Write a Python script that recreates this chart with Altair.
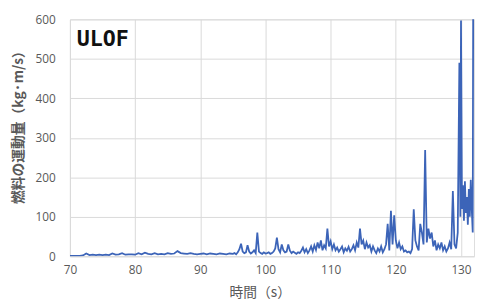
import altair as alt
import pandas as pd

# time (s) and fuel momentum (kg·m/s)
t_early = [70.0, 70.5, 71.0, 71.5, 72.0, 72.5, 73.0, 73.5, 74.0, 74.5, 75.0, 75.5,
           76.0, 76.5, 77.0, 77.5, 78.0, 78.5, 79.0, 79.5, 80.0, 80.5, 81.0, 81.5,
           82.0, 82.5, 83.0, 83.5, 84.0, 84.5, 85.0, 85.5, 86.0, 86.5, 87.0, 87.5,
           88.0, 88.5, 89.0, 89.5, 90.0, 90.5, 91.0, 91.5, 92.0, 92.5, 93.0, 93.5,
           94.0, 94.5, 95.0]
v_early = [1, 1, 1, 1, 2, 7, 3, 4, 3, 4, 3, 4,
           3, 7, 4, 5, 8, 4, 5, 5, 4, 8, 5, 9,
           6, 5, 8, 5, 6, 5, 8, 6, 7, 13, 8, 7,
           6, 8, 6, 5, 6, 7, 5, 7, 6, 5, 7, 6,
           5, 7, 6]

t_late = [95.25, 95.5, 95.75, 96.0, 96.25, 96.5, 96.75, 97.0, 97.25, 97.5, 97.75,
          98.0, 98.25, 98.5, 98.75, 99.0, 99.25, 99.5, 99.75, 100.0, 100.25, 100.5,
          100.75, 101.0, 101.25, 101.5, 101.75, 102.0, 102.25, 102.5, 102.75, 103.0,
          103.25, 103.5, 103.75, 104.0, 104.25, 104.5, 104.75, 105.0, 105.25, 105.5,
          105.75, 106.0, 106.25, 106.5, 106.75, 107.0, 107.25, 107.5, 107.75, 108.0,
          108.25, 108.5, 108.75, 109.0, 109.25, 109.5, 109.75, 110.0, 110.25, 110.5,
          110.75, 111.0, 111.25, 111.5, 111.75, 112.0, 112.25, 112.5, 112.75, 113.0,
          113.25, 113.5, 113.75, 114.0, 114.25, 114.5, 114.75, 115.0, 115.25, 115.5,
          115.75, 116.0, 116.25, 116.5, 116.75, 117.0, 117.25, 117.5, 117.75, 118.0,
          118.25, 118.5, 118.75, 119.0, 119.25, 119.5, 119.75, 120.0, 120.25, 120.5,
          120.75, 121.0, 121.25, 121.5, 121.75, 122.0, 122.25, 122.5, 122.75, 123.0,
          123.25, 123.5, 123.75, 124.0, 124.25, 124.5, 124.75, 125.0, 125.25, 125.5,
          125.75, 126.0, 126.25, 126.5, 126.75, 127.0, 127.25, 127.5, 127.75, 128.0,
          128.25, 128.5, 128.75, 129.0, 129.25, 129.5, 129.75, 129.9, 130.0, 130.15,
          130.3, 130.45, 130.6, 130.75, 130.9, 131.05, 131.2, 131.35, 131.5, 131.65,
          131.8, 131.9]
v_late = [8, 5, 10, 18, 32, 12, 8, 10, 28, 12, 7,
          10, 15, 8, 60, 12, 8, 6, 10, 7, 8, 10,
          6, 8, 12, 20, 47, 18, 10, 30, 15, 10,
          12, 30, 14, 8, 12, 9, 6, 10, 8, 14,
          22, 10, 18, 8, 15, 25, 12, 28, 16, 35,
          20, 40, 15, 28, 20, 70, 25, 38, 18, 30,
          15, 22, 12, 18, 25, 10, 20, 14, 24, 12,
          18, 28, 15, 35, 22, 70, 30, 40, 18, 35,
          22, 28, 12, 25, 15, 8, 20, 12, 25, 10,
          18, 30, 82, 15, 115, 30, 104, 40, 20, 35,
          18, 25, 12, 15, 10, 12, 8, 18, 119, 40,
          25, 15, 82, 60, 30, 269, 35, 70, 45, 60,
          25, 40, 15, 30, 20, 35, 15, 25, 12, 20,
          35, 18, 165, 30, 20, 60, 490, 100, 597, 120,
          180, 90, 190, 110, 150, 80, 170, 100, 194, 120,
          60, 900]

label_t = [71.05]
label_v = [533]
label_text = ["ULOF"]

df = pd.DataFrame({"t": t_early + t_late, "v": v_early + v_late})
lab = pd.DataFrame({"t": label_t, "v": label_v, "txt": label_text})

xs = alt.Scale(domain=[70, 132], nice=False, zero=False)
ys = alt.Scale(domain=[0, 600], nice=False)

line = alt.Chart(df).mark_line(color="#3C64B8", strokeWidth=1.8, clip=True).encode(
    x=alt.X("t:Q", scale=xs,
            axis=alt.Axis(title="時間（s）", values=[70, 80, 90, 100, 110, 120, 130],
                          grid=True, gridColor="#d9d9d9", ticks=False, domain=False,
                          labelFlush=False,
                          labelPadding=9, labelFont="Open Sans", labelFontSize=12,
                          labelColor="#595959", titleFont="Noto Sans CJK JP",
                          titleFontSize=14, titleFontWeight="normal", titleColor="#595959",
                          titleX=193, titleY=37, titleBaseline="middle",
                          titleAnchor="start", titleAlign="center")),
    y=alt.Y("v:Q", scale=ys,
            axis=alt.Axis(title="燃料の運動量（kg·m/s）", values=[0, 100, 200, 300, 400, 500, 600],
                          grid=True, gridColor="#d9d9d9", ticks=False, domain=False,
                          labelFlush=False,
                          labelPadding=15, labelFont="Open Sans", labelFontSize=12,
                          labelColor="#595959", titleFont="Noto Sans CJK JP",
                          titleFontSize=14, titleFontWeight="bold", titleColor="#595959",
                          titleX=-52, titleY=106, titleAngle=270, titleBaseline="middle",
                          titleAlign="center", titleAnchor="start")),
)

txt = alt.Chart(lab).mark_text(font="DejaVu Sans Mono", fontSize=22, fontWeight="bold",
                               color="#111111", align="left", baseline="alphabetic").encode(
    x=alt.X("t:Q", scale=xs), y=alt.Y("v:Q", scale=ys), text="txt:N")

chart = (line + txt).properties(
    width=411, height=241,
    autosize=alt.AutoSizeParams(type="none"),
    padding={"left": 63, "top": 9, "right": 2, "bottom": 45},
).configure_view(stroke="#404040", strokeWidth=1.2).configure(background="white")

chart.save("out.html", embed_options={"renderer": "svg", "actions": False})
